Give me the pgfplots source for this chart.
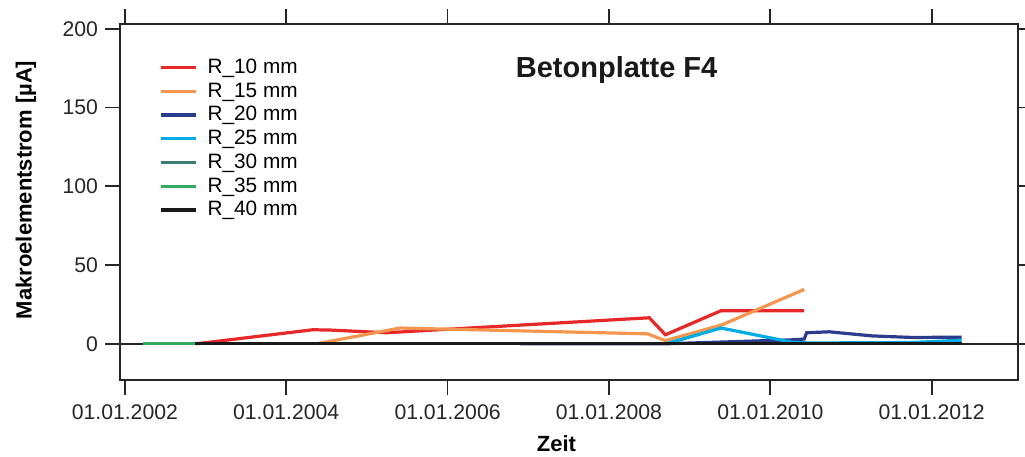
\documentclass[border=0pt]{standalone}
\usepackage{fontspec}
\setmainfont{Liberation Sans}
\usepackage{pgfplots}
\pgfplotsset{compat=1.18}

\definecolor{cR10}{RGB}{232,40,40}
\definecolor{cR15}{RGB}{244,150,80}
\definecolor{cR20}{RGB}{44,60,140}
\definecolor{cR25}{RGB}{0,172,230}
\definecolor{cR30}{RGB}{62,125,120}
\definecolor{cR35}{RGB}{50,170,95}
\definecolor{cR40}{RGB}{25,25,25}

\begin{document}
\begin{tikzpicture}
\begin{axis}[
    name=ax,
    scale only axis,
    width=449pt, height=178pt,
    xmin=2001.94, xmax=2013.07,
    ymin=-23, ymax=203,
    axis line style={line width=1pt, black!85},
    tick align=outside,
    major tick length=7.5pt,
    tick style={line width=0.9pt, black!85},
    xtick={2002,2004,2006,2008,2010,2012},
    xticklabels={01.01.2002,01.01.2004,01.01.2006,01.01.2008,01.01.2010,01.01.2012},
    ytick={0,50,100,150,200},
    /pgf/number format/assume math mode=true,
    ticklabel style={font=\fontsize{10.6}{12}\selectfont, text=black!85},
    xticklabel style={yshift=-1.5pt},
    extra y ticks={0},
    extra y tick labels={},
    extra y tick style={grid=major, major grid style={line width=0.9pt, black!85}},
    xlabel={Zeit},
    ylabel={Makroelementstrom [µA]},
    xlabel style={font=\fontsize{11}{13}\selectfont\bfseries, at={(axis description cs:0.486,-0.18)}, anchor=center},
    ylabel style={font=\fontsize{11}{13}\selectfont\bfseries, at={(axis description cs:-0.1047,0.534)}, anchor=center},
    legend cell align=left,
    legend style={draw=none, fill=none, font=\fontsize{10.4}{12}\selectfont,
        at={(axis description cs:0.0367,0.925)}, anchor=north west,
        row sep=-0.9pt},
    legend image code/.code={\draw[#1] (0pt,0pt) -- (17.5pt,0pt); \path (20.5pt,0pt);},
    every axis plot/.append style={line width=1.6pt},
]
\addplot[cR10] coordinates {
    (2002.89,0) (2004.33,8.9) (2004.55,8.7) (2005.24,7.0) (2008.50,16.5)
    (2008.70,5.7) (2009.39,21.0) (2010.42,21.0)
};
\addlegendentry{R\_10 mm}
\addplot[cR15] coordinates {
    (2004.38,0) (2005.41,10) (2008.48,6.3) (2008.70,2) (2009.40,12) (2010.42,34.5)
};
\addlegendentry{R\_15 mm}
\addplot[cR20] coordinates {
    (2006.90,0) (2008.71,0) (2010.27,2.5) (2010.42,3) (2010.45,7) (2010.73,7.6)
    (2011.26,5) (2011.76,4) (2012.37,4.2)
};
\addlegendentry{R\_20 mm}
\addplot[cR25] coordinates {
    (2008.71,0) (2009.39,10) (2010.27,1) (2010.48,0.5) (2011.76,0.8) (2012.37,2.3)
};
\addlegendentry{R\_25 mm}
\addplot[cR30] coordinates {
    (2004.38,0) (2008.71,0)
};
\addlegendentry{R\_30 mm}
\addplot[cR35] coordinates {
    (2002.22,0) (2002.87,0)
};
\addlegendentry{R\_35 mm}
\addplot[cR40] coordinates {
    (2002.87,0) (2012.37,0)
};
\addlegendentry{R\_40 mm}
\node[font=\fontsize{14.5}{17}\selectfont\bfseries, text=black!90] at (rel axis cs:0.553,0.871) {Betonplatte F4};
\end{axis}
\pgfresetboundingbox
\path ([xshift=-60pt,yshift=-38pt]ax.south west) rectangle ([xshift=3.5pt,yshift=12pt]ax.north east);
\end{tikzpicture}
\end{document}
